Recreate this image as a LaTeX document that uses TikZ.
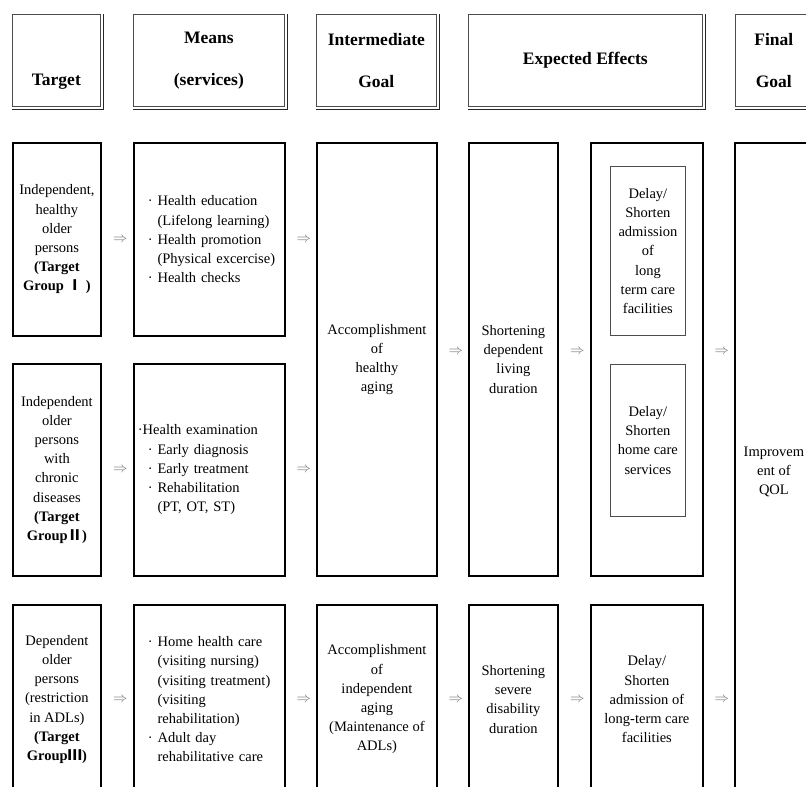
\documentclass[tikz,border=0pt]{standalone}
\usepackage{fontspec}
\setmainfont{Liberation Serif}
\newfontfamily\cjkfont{Noto Sans CJK KR}
\usetikzlibrary{positioning,calc}

\begin{document}
\begin{tikzpicture}[
    x=1pt, y=-1pt,
    headbox/.style={draw=black!70, line width=0.7pt, anchor=north west, inner sep=0pt, minimum height=92pt, align=center, font=\fontsize{17.5}{42}\selectfont\bfseries},
    cellbox/.style={draw, line width=1.8pt, anchor=north west, inner sep=0pt, align=center, font=\fontsize{14.5}{19.2}\selectfont},
    listbox/.style={cellbox, align=left, text width=123pt, minimum width=151pt},
    effbox/.style={draw=black!70, line width=0.8pt, anchor=north west, inner sep=0pt, minimum width=75pt, align=center, font=\fontsize{14.5}{19.2}\selectfont},
    implies/.style={text=black!55, inner sep=0pt, xshift=3pt, font=\fontsize{14}{14}\selectfont}
]
    \useasboundingbox (0,0) rectangle (806,787);
    \clip (0,0) rectangle (806,787);

    % column heads
    \node [headbox, minimum width=88pt] (hT) at (12,14) {\vphantom{Means}\\Target};
    \node [headbox, minimum width=151pt] (hM) at (133,14) {Means\\(services)};
    \node [headbox, minimum width=120pt] (hI) at (316,14) {Intermediate\\Goal};
    \node [headbox, minimum width=234pt] (hE) at (468,14) {Expected Effects};
    \node [headbox, minimum width=77pt] (hF) at (735,14) {Final\\Goal};
    \foreach \n in {hT,hM,hI,hE,hF}
        \draw [black!85, line width=1.2pt] ([xshift=2.4pt]\n.north east) -- ([xshift=2.4pt,yshift=-2.4pt]\n.south east) -- ([yshift=-2.4pt]\n.south west);

    % targets and means
    \node [cellbox, minimum width=88pt, minimum height=193pt] (t1) at (12,142)
        {Independent,\\healthy\\older\\persons\\\textbf{(Target}\\\textbf{Group {\cjkfont Ⅰ} )}};
    \node [listbox, minimum height=193pt] (m1) at (133,142)
        {· Health education\\\hphantom{· }(Lifelong learning)\\· Health promotion\\\hphantom{· }\mbox{(Physical excercise)}\\· Health checks};
    \node [cellbox, minimum width=88pt, minimum height=212pt] (t2) at (12,363)
        {Independent\\older\\persons\\with\\chronic\\diseases\\\textbf{(Target}\\\textbf{Group{\cjkfont Ⅱ})}};
    \node [listbox, minimum height=212pt] (m2) at (133,363)
        {\hspace*{-10pt}·Health examination\\· Early diagnosis\\· Early treatment\\· Rehabilitation\\\hphantom{· }(PT, OT, ST)};
    \node [cellbox, minimum width=88pt, minimum height=189pt] (t3) at (12,604)
        {Dependent\\older\\persons\\(restriction\\in ADLs)\\\textbf{(Target}\\\textbf{Group{\cjkfont Ⅲ})}};
    \node [listbox, minimum height=189pt] (m3) at (133,604)
        {· Home health care\\\hphantom{· }(visiting nursing)\\\hphantom{· }\mbox{(visiting treatment)}\\\hphantom{· }(visiting\\\hphantom{· }rehabilitation)\\· Adult day\\\hphantom{· }rehabilitative care};

    % goals and effects
    \node [cellbox, minimum width=120pt, minimum height=433pt] (ia) at (316,142) {Accomplishment\\of\\healthy\\aging};
    \node [cellbox, minimum width=89pt, minimum height=433pt] (ea) at (468,142) {Shortening\\dependent\\living\\duration};
    \node [cellbox, minimum width=112pt, minimum height=433pt] (da) at (590,142) {};
    \node [effbox, minimum height=169pt] (d1) at (610,166) {Delay/\\Shorten\\admission\\of\\long\\term care\\facilities};
    \node [effbox, minimum height=152pt] (d2) at (610,364) {Delay/\\Shorten\\home care\\services};
    \node [cellbox, minimum width=120pt, minimum height=189pt] (ib) at (316,604) {Accomplishment\\of\\independent\\aging\\(Maintenance of\\ADLs)};
    \node [cellbox, minimum width=89pt, minimum height=189pt] (eb) at (468,604) {Shortening\\severe\\disability\\duration};
    \node [cellbox, minimum width=112pt, minimum height=189pt] (db) at (590,604) {Delay/\\Shorten\\admission of\\long-term care\\facilities};
    \node [cellbox, minimum width=78pt, minimum height=658pt] (fg) at (734,142) {Improvem\\ent of\\QOL};

    % arrows
    \node [implies] (r1a) at ($(t1.east)!0.5!(m1.west)$) {$\Rightarrow$};
    \node [implies] (r1b) at ($(m1.east)!0.5!(m1.east -| ia.west)$) {$\Rightarrow$};
    \node [implies] (r2a) at ($(t2.east)!0.5!(m2.west)$) {$\Rightarrow$};
    \node [implies] (r2b) at ($(m2.east)!0.5!(m2.east -| ia.west)$) {$\Rightarrow$};
    \node [implies, yshift=8pt] (mc) at ($(ia.east)!0.5!(ea.west)$) {$\Rightarrow$};
    \node [implies, yshift=8pt] (md) at ($(ea.east)!0.5!(da.west)$) {$\Rightarrow$};
    \node [implies, yshift=8pt] (mf) at ($(da.east)!0.5!(da.east -| fg.west)$) {$\Rightarrow$};
    \node [implies] (r3a) at ($(t3.east)!0.5!(m3.west)$) {$\Rightarrow$};
    \node [implies] (r3b) at ($(m3.east)!0.5!(ib.west)$) {$\Rightarrow$};
    \node [implies] (r3c) at ($(ib.east)!0.5!(eb.west)$) {$\Rightarrow$};
    \node [implies] (r3d) at ($(eb.east)!0.5!(db.west)$) {$\Rightarrow$};
    \node [implies] (r3e) at ($(db.east)!0.5!(db.east -| fg.west)$) {$\Rightarrow$};
\end{tikzpicture}
\end{document}
